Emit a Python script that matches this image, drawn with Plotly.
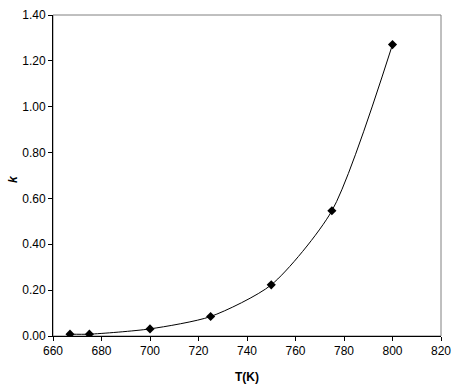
import plotly.graph_objects as go

T = [667, 675, 700, 725, 750, 775, 800]
k = [0.008, 0.008, 0.031, 0.085, 0.223, 0.546, 1.271]

x_ticks = [660, 680, 700, 720, 740, 760, 780, 800, 820]
y_ticks = [0.0, 0.2, 0.4, 0.6, 0.8, 1.0, 1.2, 1.4]

fig = go.Figure()
fig.add_trace(go.Scatter(
    x=T, y=k, mode="lines+markers",
    line=dict(color="black", width=1, shape="spline", smoothing=0.7),
    marker=dict(symbol="diamond", size=7, color="black"),
    showlegend=False,
))

font = dict(family="Liberation Sans, Arial, sans-serif", size=12, color="black")

fig.update_layout(
    width=457, height=389,
    margin=dict(l=53, r=16, t=15, b=53, autoexpand=False),
    paper_bgcolor="white", plot_bgcolor="white",
    font=font,
    shapes=[dict(type="rect", xref="paper", yref="paper", x0=0, y0=0, x1=1, y1=1,
                 line=dict(color="#808080", width=1), layer="below")],
    annotations=[dict(text="<b><i>k</i></b>", xref="paper", yref="paper",
                      x=-0.105, y=0.49, textangle=-90, showarrow=False,
                      xanchor="center", yanchor="middle", font=dict(size=12))],
)
fig.update_xaxes(
    range=[660, 820], tickvals=x_ticks, ticktext=[str(v) for v in x_ticks],
    showgrid=False, zeroline=False, showline=True, linecolor="black", linewidth=1,
    ticks="outside", ticklen=4, tickcolor="black", automargin=False,
    title=dict(text="<b>T(K)</b>", standoff=15, font=dict(size=12)),
)
fig.update_yaxes(
    range=[0, 1.4], tickvals=y_ticks, ticktext=[f"{v:.2f}" for v in y_ticks],
    showgrid=False, zeroline=False, showline=True, linecolor="black", linewidth=1,
    ticks="outside", ticklen=4, tickcolor="black", automargin=False,
)

fig.write_html("out.html", config={"displayModeBar": False},
               post_script="document.body.style.margin='0';document.body.style.overflow='hidden';")
